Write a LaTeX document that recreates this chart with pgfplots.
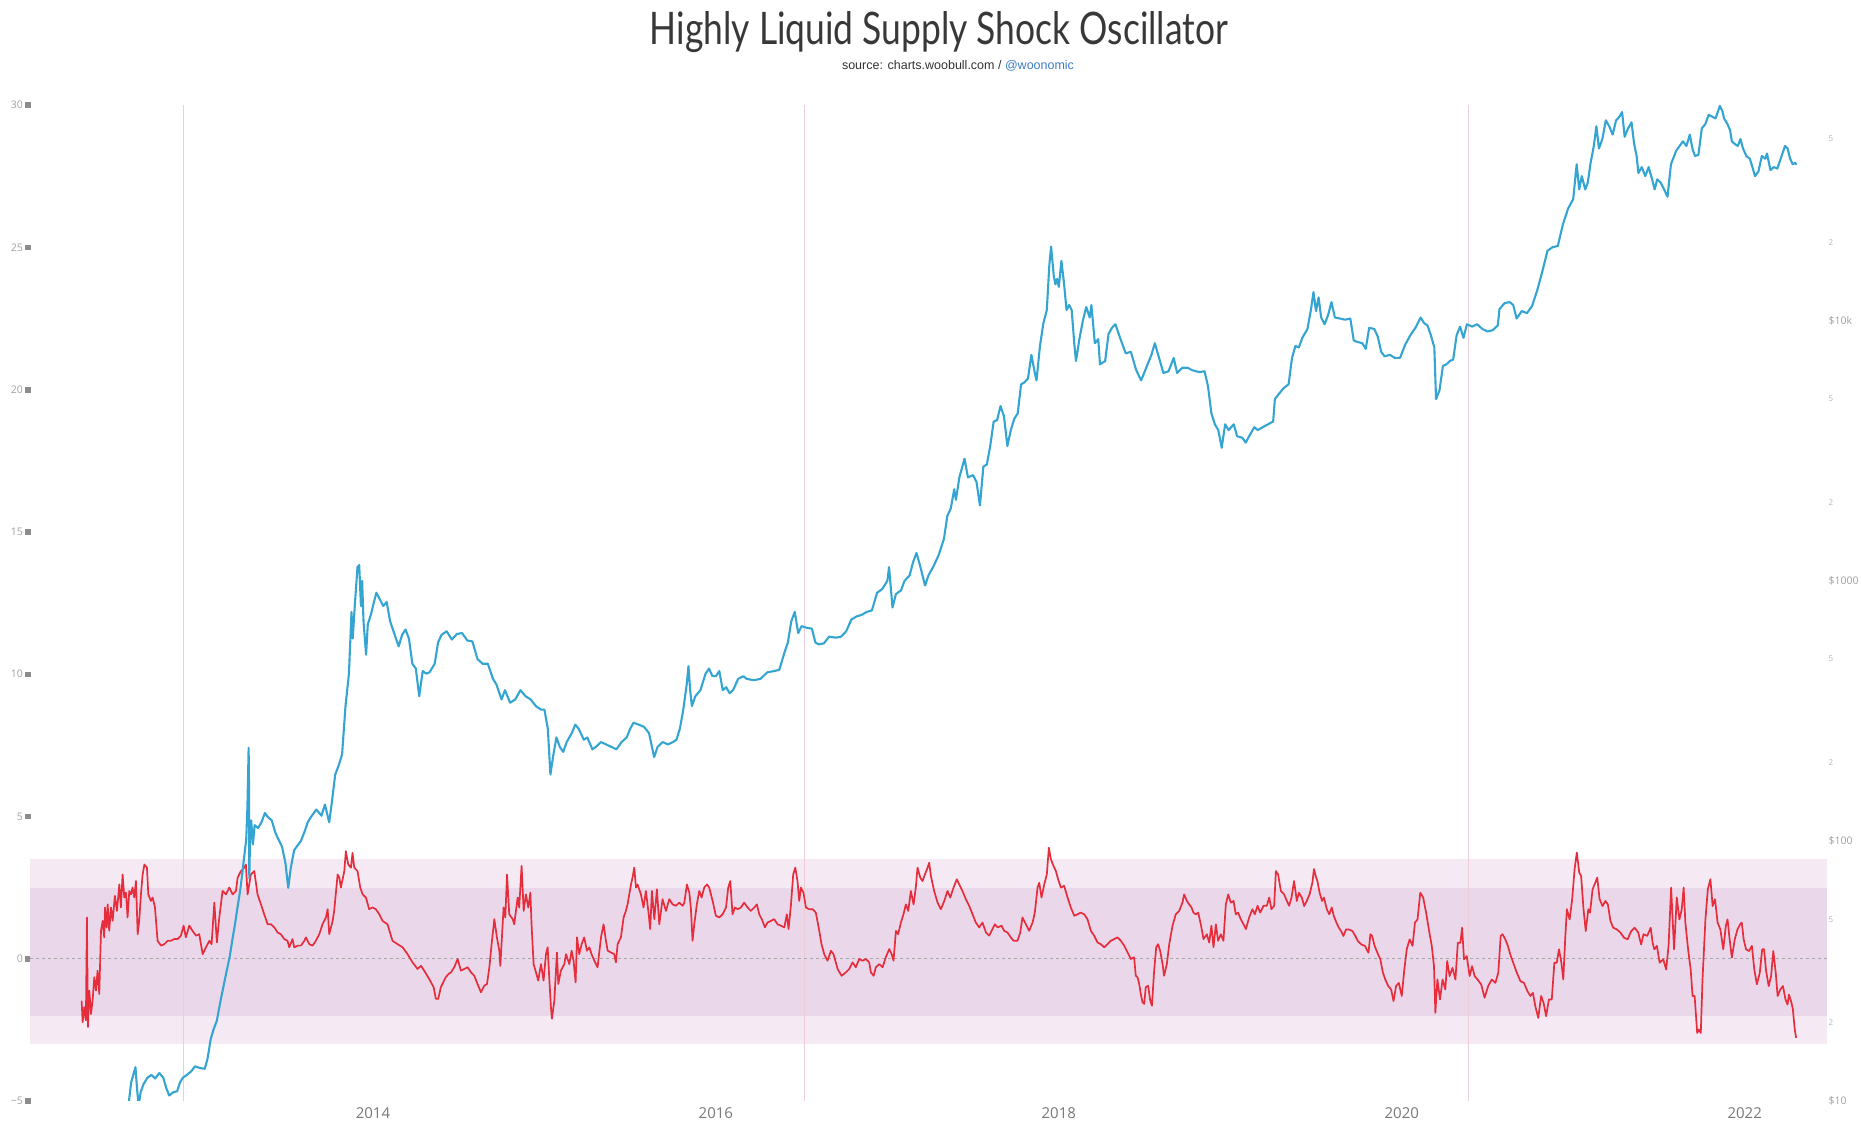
\documentclass[border=0pt]{standalone}
\usepackage{pgfplots}
\pgfplotsset{compat=1.18}
\usepackage{fontspec}
\setmainfont{Open Sans}
\newfontfamily\titlefont{Lato}
\newfontfamily\subfont{Liberation Sans}
\definecolor{btcblue}{RGB}{52,165,210}
\definecolor{oscred}{RGB}{230,45,60}
\definecolor{bandout}{RGB}{245,233,244}
\definecolor{bandin}{RGB}{234,216,234}
\definecolor{halv}{RGB}{238,205,215}
\definecolor{lblgray}{RGB}{160,160,160}
\definecolor{xlblgray}{RGB}{120,120,120}
\definecolor{sqgray}{RGB}{140,140,140}
\definecolor{subblue}{RGB}{60,125,195}
\definecolor{subgray}{RGB}{50,50,50}
\newcommand{\sq}{\hspace{2.5pt}\textcolor{sqgray}{\rule[0.8pt]{5.5pt}{5.5pt}}}
\newcommand{\mn}[1]{{\fontsize{8}{8}\selectfont\color{lblgray!80}#1}}
\begin{document}
\begin{tikzpicture}
\useasboundingbox (0,0) rectangle (1861pt,1128pt);
\node[anchor=base, inner sep=0pt, text=black!78] at (939pt,1083pt) {\resizebox{578pt}{33pt}{\titlefont Highly Liquid Supply Shock Oscillator}};
\node[anchor=base, inner sep=0pt] at (958pt,1058pt) {\subfont\fontsize{12.5}{12.5}\selectfont\color{subgray}source: charts.woobull.com / \textcolor{subblue}{@woonomic}};
\begin{axis}[
  at={(30pt,27pt)}, anchor=south west,
  width=1797pt, height=996pt, scale only axis,
  xmin=2012, xmax=2022.48, ymin=-5, ymax=30,
  axis line style={draw=none}, tick style={draw=none},
  major tick length=0pt, minor tick length=0pt,
  xtick={2014,2016,2018,2020,2022},
  xticklabels={2014,2016,2018,2020,2022},
  xticklabel style={font=\fontsize{15}{15}\selectfont, text=xlblgray, inner sep=0pt, anchor=north, yshift=-6pt},
  ytick={-5,0,5,10,15,20,25,30},
  yticklabels={{−5\sq},{0\sq},{5\sq},{10\sq},{15\sq},{20\sq},{25\sq},{30\sq}},
  yticklabel style={font=\fontsize{10.5}{10.5}\selectfont, text=lblgray, inner sep=0pt, anchor=east, xshift=1pt},
  clip=true,
]
\addplot[draw=none, fill=bandout] coordinates {(2012,-3) (2022.48,-3) (2022.48,3.5) (2012,3.5)} -- cycle;
\addplot[draw=none, fill=bandin] coordinates {(2012,-2) (2022.48,-2) (2022.48,2.5) (2012,2.5)} -- cycle;
\addplot[halv, line width=1pt] coordinates {(2012.895,-5) (2012.895,30)};
\addplot[halv, line width=1pt] coordinates {(2016.515,-5) (2016.515,30)};
\addplot[halv, line width=1pt] coordinates {(2020.39,-5) (2020.39,30)};
\addplot[black!35, line width=0.8pt, dash pattern=on 3pt off 3pt] coordinates {(2012,0) (2022.48,0)};
\addplot[oscred, line width=1.7pt, line join=round] coordinates {
(2012.301,-1.47) (2012.307,-2.23) (2012.317,-1.70) (2012.326,-2.17) (2012.332,1.45) (2012.338,-2.40) (2012.346,-1.12) (2012.356,-1.94) (2012.365,-1.47) (2012.375,-0.65) (2012.385,-1.12) (2012.394,-0.42) (2012.404,-1.24) (2012.414,0.98) (2012.424,1.33) (2012.433,0.75) (2012.437,1.80) (2012.447,1.10) (2012.453,1.91) (2012.462,0.98) (2012.472,1.80) (2012.482,1.33) (2012.495,2.21) (2012.507,1.68) (2012.521,2.61) (2012.530,1.80) (2012.540,2.96) (2012.550,2.15) (2012.560,2.32) (2012.569,1.45) (2012.579,2.38) (2012.589,2.26) (2012.598,2.50) (2012.608,2.15) (2012.618,2.73) (2012.628,0.86) (2012.637,1.33) (2012.647,2.26) (2012.657,2.96) (2012.667,3.31) (2012.682,3.20) (2012.690,2.26) (2012.705,2.03) (2012.715,2.15) (2012.729,1.80) (2012.744,0.63) (2012.764,0.46) (2012.783,0.51) (2012.803,0.63) (2012.822,0.63) (2012.841,0.69) (2012.861,0.69) (2012.880,0.81) (2012.896,1.16) (2012.909,0.75) (2012.929,1.16) (2012.948,0.98) (2012.968,0.81) (2012.987,0.86) (2013.007,0.16) (2013.026,0.40) (2013.046,0.63) (2013.059,0.51) (2013.075,1.97) (2013.090,0.57) (2013.104,1.45) (2013.123,2.38) (2013.143,2.26) (2013.162,2.50) (2013.182,2.26) (2013.201,2.38) (2013.211,2.85) (2013.230,3.08) (2013.250,3.20) (2013.259,3.31) (2013.269,2.26) (2013.288,2.96) (2013.308,3.08) (2013.327,2.26) (2013.347,1.91) (2013.366,1.56) (2013.386,1.21) (2013.405,1.21) (2013.425,1.10) (2013.444,0.92) (2013.463,0.86) (2013.483,0.69) (2013.502,0.63) (2013.512,0.40) (2013.531,0.69) (2013.541,0.40) (2013.561,0.46) (2013.580,0.46) (2013.600,0.63) (2013.609,0.75) (2013.629,0.51) (2013.648,0.46) (2013.667,0.63) (2013.687,0.86) (2013.706,1.21) (2013.726,1.45) (2013.736,1.74) (2013.745,0.86) (2013.765,1.33) (2013.774,1.68) (2013.794,2.96) (2013.804,2.85) (2013.813,2.50) (2013.833,3.08) (2013.842,3.78) (2013.856,3.31) (2013.872,3.20) (2013.881,3.72) (2013.891,3.20) (2013.910,3.08) (2013.926,2.50) (2013.940,2.26) (2013.959,2.15) (2013.978,1.74) (2013.998,1.80) (2014.017,1.74) (2014.037,1.56) (2014.056,1.33) (2014.085,1.21) (2014.114,0.63) (2014.144,0.51) (2014.173,0.40) (2014.202,0.16) (2014.231,-0.13) (2014.260,-0.36) (2014.280,-0.25) (2014.299,-0.42) (2014.328,-0.71) (2014.354,-1.00) (2014.367,-1.41) (2014.381,-1.41) (2014.396,-1.00) (2014.425,-0.65) (2014.440,-0.54)
(2014.455,-0.48) (2014.474,-0.30) (2014.494,-0.01) (2014.513,-0.42) (2014.533,-0.36) (2014.552,-0.30) (2014.572,-0.48) (2014.591,-0.60) (2014.610,-0.89) (2014.630,-1.18) (2014.649,-0.95) (2014.665,-0.89) (2014.679,-0.30) (2014.692,0.51) (2014.708,1.39) (2014.723,0.75) (2014.737,0.28) (2014.743,-0.25) (2014.750,0.51) (2014.762,1.80) (2014.772,1.45) (2014.782,2.96) (2014.795,1.56) (2014.815,1.39) (2014.824,1.21) (2014.834,1.68) (2014.844,2.15) (2014.853,1.80) (2014.867,3.26) (2014.879,1.68) (2014.892,2.26) (2014.906,1.80) (2014.918,2.32) (2014.925,1.21) (2014.937,-0.19) (2014.951,-0.48) (2014.964,-0.77) (2014.980,-0.19) (2014.995,-0.77) (2015.009,0.16) (2015.019,0.40) (2015.028,-0.65) (2015.038,-1.70) (2015.044,-2.11) (2015.058,-1.47) (2015.073,0.22) (2015.081,-0.89) (2015.096,-0.42) (2015.116,-0.19) (2015.126,0.16) (2015.145,-0.19) (2015.159,0.28) (2015.170,-0.07) (2015.182,-0.83) (2015.190,0.75) (2015.203,0.16) (2015.217,0.51) (2015.232,0.75) (2015.248,0.28) (2015.262,0.40) (2015.275,0.16) (2015.291,-0.07) (2015.310,-0.30) (2015.330,0.75) (2015.345,1.21) (2015.359,0.63) (2015.369,0.28) (2015.388,0.22) (2015.407,0.16) (2015.417,-0.13) (2015.427,0.51) (2015.446,0.75) (2015.462,1.45) (2015.475,1.68) (2015.485,1.91) (2015.495,2.26) (2015.505,2.61) (2015.514,2.85) (2015.524,3.20) (2015.534,2.50) (2015.543,2.61) (2015.563,2.26) (2015.578,1.80) (2015.592,2.38) (2015.606,1.68) (2015.617,1.04) (2015.627,2.38) (2015.641,1.39) (2015.656,2.44) (2015.670,1.21) (2015.689,2.09) (2015.709,1.68) (2015.728,2.09) (2015.748,1.91) (2015.767,1.86) (2015.786,1.97) (2015.806,1.86) (2015.816,1.97) (2015.831,2.61) (2015.845,2.32) (2015.854,1.80) (2015.864,0.63) (2015.874,1.21) (2015.889,1.91) (2015.903,2.38) (2015.917,2.15) (2015.932,2.50) (2015.948,2.61) (2015.961,2.50) (2015.981,2.03) (2016.000,1.51) (2016.020,1.45) (2016.039,1.56) (2016.059,1.80) (2016.072,2.50) (2016.084,2.73) (2016.097,1.56) (2016.111,1.80) (2016.127,1.74) (2016.146,1.80) (2016.165,1.97) (2016.185,1.80) (2016.204,1.68) (2016.224,1.80) (2016.239,1.91) (2016.253,1.56) (2016.272,1.33) (2016.286,1.10) (2016.301,1.27) (2016.321,1.33) (2016.340,1.39) (2016.360,1.21) (2016.379,1.16) (2016.399,1.10) (2016.414,1.56) (2016.424,1.04) (2016.438,1.91) (2016.451,2.96) (2016.463,3.20) (2016.476,2.73) (2016.486,2.03) (2016.496,2.50) (2016.511,2.32) (2016.525,1.80) (2016.544,1.74) (2016.564,1.74) (2016.583,1.62) (2016.603,0.98) (2016.616,0.51) (2016.632,0.16) (2016.651,-0.07) (2016.671,0.28) (2016.686,0.16) (2016.710,-0.36) (2016.733,-0.60) (2016.758,-0.48) (2016.778,-0.36) (2016.797,-0.13) (2016.816,-0.30) (2016.836,-0.01) (2016.855,-0.07) (2016.875,-0.01) (2016.894,-0.13)
(2016.904,-0.48) (2016.920,-0.60) (2016.933,-0.30) (2016.953,-0.19) (2016.972,-0.30) (2016.991,0.05) (2017.011,0.34) (2017.025,0.16) (2017.036,-0.07) (2017.050,0.98) (2017.063,0.86) (2017.079,1.27) (2017.094,1.56) (2017.108,1.91) (2017.122,1.68) (2017.137,2.38) (2017.153,1.91) (2017.166,2.50) (2017.176,3.20) (2017.192,2.85) (2017.205,2.73) (2017.219,2.96) (2017.231,3.14) (2017.244,3.37) (2017.254,2.91) (2017.273,2.38) (2017.293,1.97) (2017.312,1.74) (2017.332,2.03) (2017.351,2.38) (2017.367,2.15) (2017.386,2.50) (2017.405,2.79) (2017.419,2.61) (2017.438,2.38) (2017.458,2.09) (2017.477,1.86) (2017.497,1.56) (2017.516,1.27) (2017.536,1.10) (2017.555,1.27) (2017.575,0.92) (2017.594,0.81) (2017.608,0.98) (2017.627,1.21) (2017.643,1.10) (2017.666,1.16) (2017.681,0.98) (2017.701,0.92) (2017.720,0.75) (2017.736,0.63) (2017.759,0.63) (2017.775,0.92) (2017.788,1.45) (2017.808,1.21) (2017.827,0.98) (2017.847,1.27) (2017.860,1.62) (2017.876,2.50) (2017.886,2.67) (2017.899,2.15) (2017.915,2.61) (2017.930,2.96) (2017.942,3.90) (2017.954,3.49) (2017.969,3.26) (2017.983,3.08) (2017.996,2.79) (2018.012,2.50) (2018.031,2.56) (2018.051,2.15) (2018.070,1.80) (2018.090,1.51) (2018.109,1.56) (2018.128,1.62) (2018.148,1.56) (2018.167,1.39) (2018.187,0.98) (2018.206,0.81) (2018.226,0.57) (2018.245,0.51) (2018.265,0.40) (2018.284,0.51) (2018.303,0.63) (2018.323,0.69) (2018.342,0.75) (2018.362,0.63) (2018.381,0.46) (2018.401,0.22) (2018.420,-0.01) (2018.439,0.05) (2018.449,-0.60) (2018.459,-0.65) (2018.469,-0.89) (2018.478,-1.24) (2018.488,-1.53) (2018.498,-1.59) (2018.507,-1.00) (2018.521,-0.95) (2018.533,-1.47) (2018.543,-1.65) (2018.556,-0.42) (2018.568,0.40) (2018.579,0.51) (2018.591,0.28) (2018.605,-0.19) (2018.614,-0.60) (2018.630,-0.19) (2018.644,0.51) (2018.663,1.16) (2018.682,1.56) (2018.702,1.68) (2018.721,1.97) (2018.731,2.26) (2018.747,2.03) (2018.760,1.91) (2018.774,1.80) (2018.785,1.62) (2018.799,1.56) (2018.813,1.62) (2018.828,1.21) (2018.844,0.69) (2018.863,0.86) (2018.877,0.57) (2018.890,1.16) (2018.902,0.40) (2018.916,1.21) (2018.929,0.63) (2018.945,0.86) (2018.960,0.63) (2018.974,1.91) (2018.988,2.26) (2019.003,1.97) (2019.019,2.03) (2019.032,1.56) (2019.046,1.62) (2019.061,1.39) (2019.077,1.21) (2019.091,1.04) (2019.110,1.45) (2019.129,1.74) (2019.143,1.56) (2019.159,1.86) (2019.174,1.62) (2019.194,1.86) (2019.213,1.86) (2019.227,2.15) (2019.240,1.74) (2019.256,1.86) (2019.266,3.08) (2019.279,2.96) (2019.295,2.38) (2019.314,2.26) (2019.330,2.03) (2019.343,1.86) (2019.357,2.15) (2019.372,2.73) (2019.388,2.03)
(2019.400,2.32) (2019.417,2.15) (2019.431,1.85) (2019.446,2.03) (2019.463,2.27) (2019.479,2.68) (2019.488,3.15) (2019.498,2.91) (2019.508,2.73) (2019.521,2.32) (2019.535,2.03) (2019.546,2.15) (2019.563,1.74) (2019.577,1.56) (2019.592,1.80) (2019.604,1.50) (2019.619,1.27) (2019.633,1.09) (2019.646,0.97) (2019.660,0.80) (2019.675,1.03) (2019.692,1.03) (2019.713,0.97) (2019.729,0.80) (2019.744,0.62) (2019.765,0.50) (2019.785,0.45) (2019.806,0.21) (2019.817,0.86) (2019.827,0.80) (2019.842,0.45) (2019.858,0.21) (2019.875,-0.02) (2019.890,-0.49) (2019.904,-0.73) (2019.921,-0.96) (2019.938,-1.08) (2019.952,-1.49) (2019.967,-0.96) (2019.983,-0.85) (2020.000,-1.31) (2020.015,-0.38) (2020.029,0.33) (2020.046,0.68) (2020.063,0.45) (2020.077,1.27) (2020.092,1.38) (2020.108,2.32) (2020.125,2.15) (2020.142,1.62) (2020.158,1.03) (2020.175,0.45) (2020.188,-0.26) (2020.196,-1.90) (2020.208,-0.73) (2020.223,-1.43) (2020.238,-0.73) (2020.254,-1.08) (2020.265,-0.08) (2020.279,-0.61) (2020.296,-0.32) (2020.313,-0.73) (2020.327,0.56) (2020.342,0.56) (2020.352,1.09) (2020.363,-0.02) (2020.379,0.09) (2020.396,-0.61) (2020.410,-0.26) (2020.425,-0.61) (2020.442,-0.73) (2020.463,-0.90) (2020.483,-1.37) (2020.504,-0.96) (2020.525,-0.73) (2020.546,-0.85) (2020.563,-0.49) (2020.577,0.80) (2020.588,0.86) (2020.604,0.68) (2020.619,0.45) (2020.633,0.15) (2020.650,-0.14) (2020.671,-0.49) (2020.692,-0.79) (2020.713,-0.85) (2020.733,-1.14) (2020.750,-1.31) (2020.765,-1.20) (2020.779,-1.67) (2020.796,-2.08) (2020.813,-1.31) (2020.827,-1.55) (2020.842,-2.02) (2020.858,-1.43) (2020.875,-1.43) (2020.890,-0.14) (2020.904,-0.14) (2020.917,0.33) (2020.931,-0.14) (2020.942,-0.73) (2020.954,0.80) (2020.963,1.74) (2020.979,1.38) (2020.994,2.09) (2021.008,3.15) (2021.021,3.73) (2021.035,3.03) (2021.046,2.91) (2021.060,1.74) (2021.073,0.97) (2021.088,1.74) (2021.098,1.62) (2021.113,2.44) (2021.129,2.68) (2021.140,2.85) (2021.154,2.09) (2021.171,1.85) (2021.188,2.03) (2021.202,1.91) (2021.217,1.33) (2021.233,1.09) (2021.254,1.03) (2021.275,0.92) (2021.296,0.74) (2021.317,0.68) (2021.338,0.97) (2021.358,1.09) (2021.379,0.92) (2021.396,0.50) (2021.410,0.86) (2021.431,0.80) (2021.452,1.09) (2021.463,0.56) (2021.473,0.33) (2021.488,0.45) (2021.504,-0.14) (2021.525,-0.02) (2021.542,-0.38) (2021.556,0.45) (2021.571,2.50) (2021.588,0.33) (2021.604,2.15) (2021.619,1.38) (2021.633,1.74) (2021.644,2.50) (2021.654,1.27) (2021.671,0.27) (2021.685,-0.38) (2021.696,-1.31) (2021.708,-1.31) (2021.723,-2.61) (2021.733,-2.49) (2021.744,-2.61) (2021.754,-0.73) (2021.771,1.38) (2021.785,2.44) (2021.800,2.79) (2021.813,1.85) (2021.827,2.09) (2021.842,1.27) (2021.858,1.03) (2021.875,0.33) (2021.890,1.15) (2021.900,1.38) (2021.910,0.80) (2021.925,0.04) (2021.942,0.68) (2021.958,1.03) (2021.973,1.21) (2021.983,1.27) (2021.994,0.68) (2022.008,0.33) (2022.025,0.27) (2022.042,0.45) (2022.056,-0.38) (2022.071,-0.90) (2022.088,-0.49) (2022.102,0.33) (2022.113,0.33) (2022.125,-0.43) (2022.140,-0.96) (2022.154,-0.61) (2022.167,0.27) (2022.181,-0.49) (2022.192,-1.31) (2022.208,-1.08) (2022.223,-0.96) (2022.238,-1.43) (2022.250,-1.61) (2022.258,-1.26) (2022.273,-1.55) (2022.281,-1.78) (2022.292,-2.49) (2022.300,-2.78)
};
\end{axis}
\begin{axis}[
  at={(30pt,27pt)}, anchor=south west,
  width=1797pt, height=996pt, scale only axis,
  xmin=2012, xmax=2022.48, ymode=log, ymin=10, ymax=67600,
  axis line style={draw=none}, tick style={draw=none},
  major tick length=0pt, minor tick length=0pt,
  xtick=\empty, minor ytick={},
  ytick={10,20,50,100,200,500,1000,2000,5000,10000,20000,50000},
  yticklabels={\$10,\mn{2},\mn{5},\$100,\mn{2},\mn{5},\$1000,\mn{2},\mn{5},\$10k,\mn{2},\mn{5}},
  yticklabel pos=right,
  yticklabel style={font=\fontsize{10.5}{10.5}\selectfont, text=lblgray, inner sep=0pt, anchor=west, xshift=1.5pt},
  clip=true,
]
\addplot[btcblue, line width=2.1pt, line join=round] coordinates {
(2012.574,9.6) (2012.590,11.8) (2012.615,13.5) (2012.625,11.0) (2012.634,9.6) (2012.645,10.8) (2012.662,11.6) (2012.685,12.3) (2012.708,12.6) (2012.730,12.2) (2012.754,12.8) (2012.777,12.3) (2012.795,11.2) (2012.812,10.5) (2012.835,10.8) (2012.858,10.9) (2012.875,11.8) (2012.892,12.3) (2012.915,12.6) (2012.940,13.0) (2012.962,13.6) (2012.990,13.4) (2013.019,13.3) (2013.035,14.5) (2013.054,17.3) (2013.070,18.8) (2013.089,20.3) (2013.115,25.0) (2013.146,31.4) (2013.165,36.0) (2013.181,42.0) (2013.196,48.0) (2013.211,56.0) (2013.225,64.0) (2013.238,75.0) (2013.250,88.0) (2013.261,101) (2013.268,135) (2013.272,180) (2013.275,228) (2013.277,170) (2013.279,72) (2013.283,100) (2013.290,120) (2013.300,97) (2013.310,115) (2013.330,112) (2013.350,118) (2013.370,128) (2013.390,123) (2013.410,120) (2013.430,108) (2013.450,101) (2013.470,95) (2013.490,82) (2013.506,66) (2013.520,78) (2013.540,92) (2013.560,96) (2013.580,100) (2013.600,108) (2013.620,118) (2013.640,124) (2013.670,132) (2013.700,125) (2013.720,138) (2013.745,118) (2013.760,140) (2013.780,180) (2013.800,195) (2013.820,215) (2013.840,330) (2013.860,440) (2013.875,760) (2013.882,600) (2013.895,820) (2013.910,1130) (2013.920,1150) (2013.930,800) (2013.937,1000) (2013.945,700) (2013.960,520) (2013.970,680) (2013.990,750) (2014.000,800) (2014.020,900) (2014.040,850) (2014.060,800) (2014.080,830) (2014.100,700) (2014.120,640) (2014.150,560) (2014.170,620) (2014.190,650) (2014.210,600) (2014.230,480) (2014.250,460) (2014.270,360) (2014.290,450) (2014.310,440) (2014.330,445) (2014.360,480) (2014.380,580) (2014.400,620) (2014.430,640) (2014.460,595) (2014.490,625) (2014.520,630) (2014.550,590) (2014.580,585) (2014.610,500) (2014.640,480) (2014.670,480) (2014.700,420) (2014.720,400) (2014.750,350) (2014.770,380) (2014.800,340) (2014.830,350) (2014.860,380) (2014.890,360) (2014.920,350) (2014.950,330) (2014.980,320) (2015.000,320) (2015.020,270) (2015.035,180) (2015.050,210) (2015.070,250) (2015.090,230) (2015.110,220) (2015.130,240) (2015.160,260) (2015.180,280) (2015.200,270) (2015.230,245) (2015.250,250) (2015.280,225) (2015.300,230) (2015.330,240) (2015.360,235) (2015.390,230) (2015.420,225) (2015.450,240) (2015.480,250) (2015.500,270) (2015.520,285) (2015.550,280) (2015.580,275) (2015.610,260) (2015.640,210) (2015.660,230) (2015.690,240) (2015.720,235) (2015.750,240) (2015.770,245) (2015.790,270) (2015.810,320) (2015.830,400) (2015.840,470) (2015.850,380) (2015.860,330) (2015.880,360) (2015.910,380) (2015.940,440) (2015.960,460) (2015.980,430) (2016.000,430) (2016.020,450) (2016.040,380) (2016.060,390) (2016.080,370) (2016.100,380) (2016.130,420) (2016.160,430) (2016.180,420) (2016.220,415) (2016.260,420) (2016.300,445) (2016.340,450) (2016.370,455) (2016.400,530) (2016.420,580) (2016.440,700) (2016.460,760) (2016.480,630) (2016.500,670) (2016.530,660) (2016.560,655) (2016.580,580) (2016.600,570) (2016.630,575) (2016.660,610) (2016.700,605) (2016.730,610) (2016.760,640) (2016.790,710) (2016.820,730) (2016.850,740) (2016.880,760) (2016.910,770) (2016.940,900) (2016.970,930) (2017.000,1000) (2017.010,1130) (2017.030,790) (2017.050,890) (2017.080,920) (2017.100,1000) (2017.130,1050) (2017.150,1180) (2017.170,1280) (2017.190,1150) (2017.220,960) (2017.240,1050) (2017.270,1140) (2017.300,1260) (2017.330,1450) (2017.350,1780) (2017.370,1900) (2017.390,2250) (2017.400,2050) (2017.420,2500) (2017.450,2950) (2017.470,2500) (2017.500,2550) (2017.520,2400) (2017.540,1950) (2017.560,2750) (2017.580,2800) (2017.600,3300) (2017.620,4100) (2017.640,4150) (2017.660,4700) (2017.680,4300) (2017.700,3300) (2017.720,3800) (2017.740,4200) (2017.760,4400) (2017.780,5700) (2017.800,5800) (2017.820,6000) (2017.840,7400) (2017.860,6300) (2017.870,5900) (2017.890,8000) (2017.910,9800) (2017.930,11000) (2017.945,16500) (2017.955,19300) (2017.970,15000) (2017.980,13800) (2017.990,14500) (2018.000,13500) (2018.015,17000) (2018.030,14000) (2018.045,11000) (2018.060,11500) (2018.075,11000) (2018.090,8200) (2018.100,7000) (2018.120,8500) (2018.140,10000) (2018.160,11300) (2018.180,10300) (2018.190,11500) (2018.210,8200) (2018.230,8500) (2018.240,6800) (2018.270,7000) (2018.290,8900) (2018.310,9400) (2018.330,9700) (2018.360,8500) (2018.390,7500) (2018.420,7600) (2018.450,6500) (2018.480,5900) (2018.510,6600) (2018.540,7400) (2018.560,8200) (2018.590,7000) (2018.610,6300) (2018.640,6400) (2018.670,7200) (2018.690,6300) (2018.720,6600) (2018.750,6600) (2018.780,6450) (2018.820,6350) (2018.850,6400) (2018.870,5600) (2018.890,4400) (2018.910,4000) (2018.930,3800) (2018.950,3250) (2018.970,4000) (2018.990,3800) (2019.020,4000) (2019.040,3600) (2019.070,3550) (2019.090,3400) (2019.110,3600) (2019.140,3900) (2019.160,3800) (2019.190,3900) (2019.220,4000) (2019.250,4100) (2019.260,5000) (2019.280,5200) (2019.310,5500) (2019.340,5700) (2019.360,7200) (2019.380,8000) (2019.400,7900) (2019.420,8600) (2019.450,9300) (2019.470,11000) (2019.485,12900) (2019.500,10900) (2019.515,12300) (2019.530,10300) (2019.550,9700) (2019.570,10500) (2019.590,11800) (2019.610,10300) (2019.640,10200) (2019.670,10100) (2019.700,10200) (2019.720,8400) (2019.740,8300) (2019.770,8200) (2019.790,7800) (2019.810,9400) (2019.840,9300) (2019.860,8700) (2019.880,7600) (2019.900,7300) (2019.930,7400) (2019.960,7200) (2019.990,7200) (2020.020,8100) (2020.050,8800) (2020.080,9400) (2020.110,10300) (2020.130,9800) (2020.150,9600) (2020.170,8800) (2020.190,7900) (2020.200,5000) (2020.220,5400) (2020.240,6700) (2020.260,6800) (2020.280,7000) (2020.300,7100) (2020.320,8800) (2020.340,9500) (2020.360,8600) (2020.380,9700) (2020.410,9500) (2020.440,9700) (2020.470,9300) (2020.500,9100) (2020.530,9200) (2020.560,9600) (2020.570,11100) (2020.600,11700) (2020.630,11800) (2020.650,11500) (2020.670,10200) (2020.700,10900) (2020.730,10700) (2020.760,11400) (2020.790,13100) (2020.820,15500) (2020.850,18600) (2020.880,19200) (2020.910,19400) (2020.940,23500) (2020.970,27000) (2021.000,29400) (2021.020,40000) (2021.035,32000) (2021.050,36000) (2021.070,32000) (2021.085,34000) (2021.100,40000) (2021.120,47000) (2021.135,56000) (2021.150,46000) (2021.170,50000) (2021.190,59000) (2021.210,56000) (2021.230,52000) (2021.250,59000) (2021.270,61000) (2021.285,63500) (2021.300,51000) (2021.320,55000) (2021.340,58000) (2021.355,48000) (2021.370,43000) (2021.380,37000) (2021.400,39000) (2021.420,36000) (2021.440,39000) (2021.460,35000) (2021.475,32000) (2021.490,35000) (2021.510,34000) (2021.530,32000) (2021.550,30000) (2021.570,40000) (2021.600,45000) (2021.620,47000) (2021.640,49000) (2021.660,47000) (2021.680,52000) (2021.695,46000) (2021.710,43000) (2021.730,43500) (2021.750,55000) (2021.770,57000) (2021.790,62000) (2021.810,61000) (2021.830,60000) (2021.855,67000) (2021.870,64000) (2021.880,60000) (2021.900,57000) (2021.915,54000) (2021.925,49000) (2021.940,48000) (2021.960,47000) (2021.975,50000) (2021.990,46000) (2022.010,43000) (2022.030,42000) (2022.050,38000) (2022.060,36000) (2022.080,37500) (2022.100,43000) (2022.120,42000) (2022.130,44000) (2022.150,38000) (2022.170,39000) (2022.190,38500) (2022.210,42000) (2022.235,47000) (2022.250,46000) (2022.265,42000) (2022.280,40000) (2022.295,40500) (2022.300,39800)
};
\end{axis}
\end{tikzpicture}
\end{document}
